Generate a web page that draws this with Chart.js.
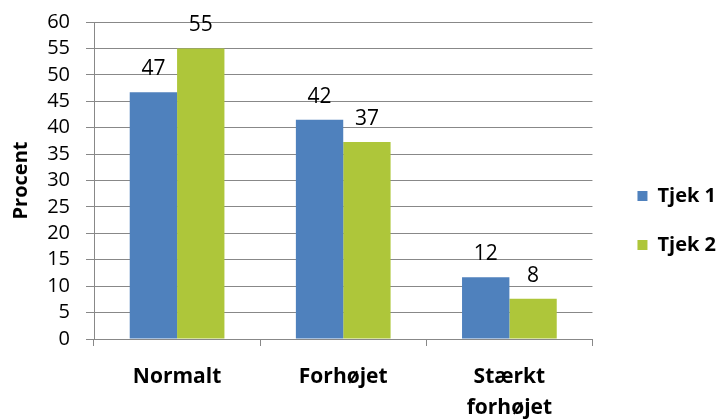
<!DOCTYPE html>
<html>
<head>
<meta charset="utf-8">
<script src="https://cdn.jsdelivr.net/npm/chart.js@4"></script>
<style>
  html, body { margin: 0; padding: 0; background: #fff; }
  #wrap { width: 718px; height: 419px; }
</style>
</head>
<body>
<div id="wrap"><canvas id="chart" width="718" height="419"></canvas></div>
<script>
const categories = ["Normalt", "Forhøjet", ["Stærkt", "forhøjet"]];
const tjek1 = [46.7, 41.5, 11.7];
const tjek2 = [55.0, 37.3, 7.6];
const seriesNames = ["Tjek 1", "Tjek 2"];
const yMin = 0, yMax = 60, yStep = 5;

const font = "'Open Sans', 'Liberation Sans', sans-serif";

// rounded value above each bar, like Excel data labels
const valueLabels = {
	id: "valueLabels",
	afterDatasetsDraw(chart) {
		const c = chart.ctx;
		c.save();
		c.font = "21px " + font;
		c.fillStyle = "#000";
		c.textAlign = "center";
		c.textBaseline = "alphabetic";
		chart.data.datasets.forEach((ds, i) => {
			chart.getDatasetMeta(i).data.forEach((bar, j) => {
				c.fillText(Math.round(ds.data[j]), bar.x, bar.y - 17);
			});
		});
		c.restore();
	},
};

const ctx = document.getElementById("chart").getContext("2d");
new Chart(ctx, {
	type: "bar",
	data: {
		labels: categories,
		datasets: [
			{ label: seriesNames[0], data: tjek1, backgroundColor: "#4F81BD" },
			{ label: seriesNames[1], data: tjek2, backgroundColor: "#AEC63A" },
		],
	},
	options: {
		responsive: false,
		animation: false,
		layout: { padding: { top: 22, right: -8, left: 0, bottom: 0 } },
		datasets: { bar: { categoryPercentage: 0.57, barPercentage: 1.0 } },
		scales: {
			x: {
				afterFit: (s) => { s.height = 80; },
				grid: { display: true, drawOnChartArea: false, color: "#888", tickLength: 7, offset: true },
				border: { color: "#888", width: 1 },
				ticks: {
					color: "#000",
					font: { family: font, size: 21, weight: "bold", lineHeight: 1.45 },
					padding: 16,
				},
			},
			y: {
				min: yMin,
				max: yMax,
				afterFit: (s) => {
					s.width = 94;
					// don't let the tick padding push the plot area down
					s.paddingTop = 0;
					s.paddingBottom = 0;
				},
				grid: { color: "#888", lineWidth: 1, tickLength: 8 },
				border: { color: "#888", width: 1 },
				ticks: { stepSize: yStep, autoSkip: false, color: "#000", font: { family: font, size: 20 }, padding: 16 },
				title: {
					display: true,
					text: "Procent",
					color: "#000",
					font: { family: font, size: 20, weight: "bold" },
					padding: { top: 9, bottom: 0 },
				},
			},
			// empty strip between plot area and legend
			gap: {
				position: "right",
				afterFit: (s) => { s.width = 16; },
				grid: { display: false },
				border: { display: false },
				ticks: { display: false },
			},
		},
		plugins: {
			legend: {
				position: "right",
				labels: {
					color: "#000",
					font: { family: font, size: 20, weight: "bold" },
					boxWidth: 10,
					boxHeight: 10,
					padding: 29,
				},
			},
			tooltip: { enabled: false },
		},
	},
	plugins: [valueLabels],
});
</script>
</body>
</html>
